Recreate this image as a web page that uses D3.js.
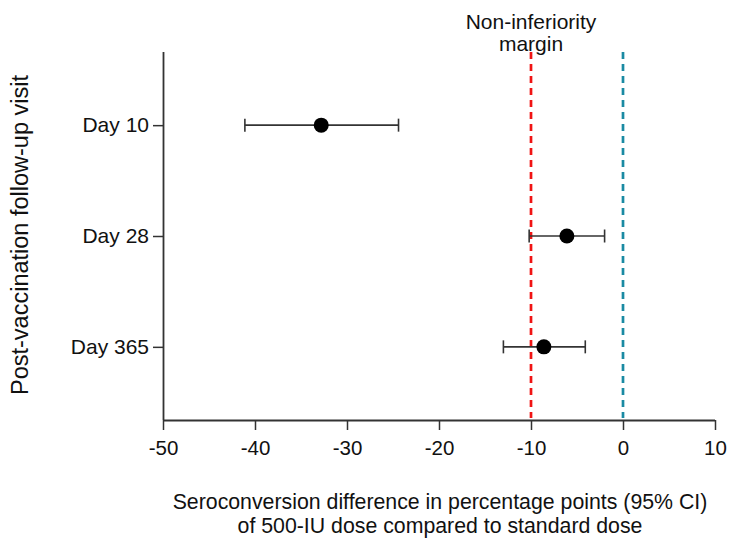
<!DOCTYPE html>
<html><head><meta charset="utf-8">
<script src="https://cdn.jsdelivr.net/npm/d3@7"></script>
<style>body{margin:0;background:#fff}svg{display:block;font-family:"Liberation Sans",Arial,sans-serif}</style>
</head><body><svg id="c" width="730" height="543"></svg>
<script>
const visits = ["Day 10", "Day 28", "Day 365"];
const estimate = [-32.8, -6.1, -8.6];
const lower = [-41.1, -10.2, -13.0];
const upper = [-24.4, -2.0, -4.1];
const xTicks = [-50, -40, -30, -20, -10, 0, 10];
const margin = -10;
const reference = 0;

const svg = d3.select("#c");
const L = 163, R = 715, T = 52, B = 420;
const x = d3.scaleLinear().domain([-50, 10]).range([L, R]);
const y = d3.scalePoint().domain(visits).range([T, B]).padding(0.66);

const xAxis = svg.append("g").attr("transform", `translate(0,${B})`)
  .call(d3.axisBottom(x).tickValues(xTicks).tickSize(10).tickSizeOuter(0).tickPadding(10).tickFormat(d3.format("d")));
xAxis.select(".domain").attr("stroke", "#333").attr("stroke-width", 1.8).attr("d", `M${L},0.5H${R}`);
xAxis.selectAll(".tick line").attr("stroke", "#333").attr("stroke-width", 1.5);
xAxis.selectAll("text").attr("font-size", 20.5).attr("fill", "#111").text(d => d < 0 ? "-" + Math.abs(d) : d);

const yAxis = svg.append("g").attr("transform", `translate(${L},0)`)
  .call(d3.axisLeft(y).tickSize(10).tickSizeOuter(0).tickPadding(4));
yAxis.select(".domain").attr("stroke", "#333").attr("stroke-width", 1.8).attr("d", `M0.5,${T}V${B}`);
yAxis.selectAll(".tick line").attr("stroke", "#333").attr("stroke-width", 1.5);
yAxis.selectAll("text").attr("font-size", 21).attr("fill", "#111");

svg.append("line").attr("x1", x(margin)).attr("x2", x(margin)).attr("y1", T).attr("y2", B - 2)
  .attr("stroke", "#f01414").attr("stroke-width", 2.7).attr("stroke-dasharray", "7,5");
svg.append("line").attr("x1", x(reference)).attr("x2", x(reference)).attr("y1", T).attr("y2", B - 2)
  .attr("stroke", "#1a8aa3").attr("stroke-width", 2.7).attr("stroke-dasharray", "7,5");

const g = svg.append("g");
visits.forEach((v, i) => {
  const cy = y(v);
  g.append("line").attr("x1", x(lower[i])).attr("x2", x(upper[i])).attr("y1", cy).attr("y2", cy)
    .attr("stroke", "#333").attr("stroke-width", 1.6);
  [lower[i], upper[i]].forEach(e => g.append("line").attr("x1", x(e)).attr("x2", x(e))
    .attr("y1", cy - 6.5).attr("y2", cy + 6.5).attr("stroke", "#333").attr("stroke-width", 1.6));
  g.append("circle").attr("cx", x(estimate[i])).attr("cy", cy).attr("r", 7.5).attr("fill", "#000");
});

svg.append("text").attr("x", x(margin)).attr("y", 29).attr("text-anchor", "middle").attr("font-size", 21).attr("fill", "#111").text("Non-inferiority");
svg.append("text").attr("x", x(margin)).attr("y", 51).attr("text-anchor", "middle").attr("font-size", 21).attr("fill", "#111").text("margin");

svg.append("text").attr("transform", "translate(28,235) rotate(-90)").attr("text-anchor", "middle")
  .attr("font-size", 23.5).attr("fill", "#111").text("Post-vaccination follow-up visit");

svg.append("text").attr("x", 440).attr("y", 509).attr("text-anchor", "middle").attr("font-size", 21.3).attr("fill", "#111")
  .text("Seroconversion difference in percentage points (95% CI)");
svg.append("text").attr("x", 440).attr("y", 533).attr("text-anchor", "middle").attr("font-size", 21.3).attr("fill", "#111")
  .text("of 500-IU dose compared to standard dose");
</script></body></html>
